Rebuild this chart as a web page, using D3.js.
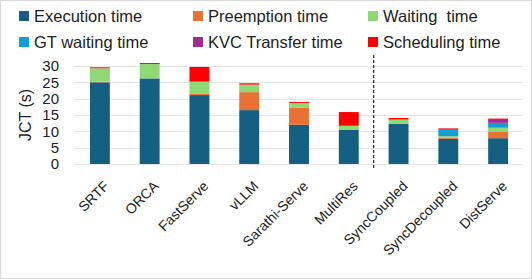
<!DOCTYPE html>
<html lang="en">
<head>
<meta charset="UTF-8">
<title>JCT breakdown</title>
<script src="https://d3js.org/d3.v7.min.js"></script>
<style>
    body { margin: 0; background: #fff; font-family: "Liberation Sans", Arial, sans-serif; }
    svg { display: block; }
</style>
</head>
<body>
<svg id="chart"></svg>
<script>
    // data
    const systems = ["SRTF", "ORCA", "FastServe", "vLLM", "Sarathi-Serve", "MultiRes", "SyncCoupled", "SyncDecoupled", "DistServe"];
    const seriesNames = ["Execution time", "Preemption time", "Waiting  time", "GT waiting time", "KVC Transfer time", "Scheduling time"];
    const execTime     = [25.0, 26.2, 21.1, 16.5, 12.0, 10.5, 12.3, 7.7, 7.9];
    const preemptTime  = [0.2, 0, 0.5, 5.5, 5.2, 0.1, 0.1, 0.3, 1.9];
    const waitTime     = [4.1, 4.4, 3.6, 2.3, 1.5, 1.1, 1.2, 0.5, 1.3];
    const gtWaitTime   = [0, 0, 0, 0, 0, 0, 0, 2.0, 1.5];
    const kvcTime      = [0, 0, 0, 0, 0, 0, 0, 0, 0.9];
    const schedTime    = [0.3, 0.3, 4.5, 0.4, 0.3, 4.2, 0.5, 0.4, 0.4];
    const yTicks = [0, 5, 10, 15, 20, 25, 30];
    const colors = ["#156082", "#E97132", "#8ED973", "#0F9ED5", "#A02B93", "#FF0000"];

    const W = 532, H = 279;
    const svg = d3.select("#chart").attr("width", W).attr("height", H);

    // outer frame like the office chart area
    svg.append("rect")
        .attr("x", 0.5).attr("y", 0.5)
        .attr("width", W - 1).attr("height", H - 1)
        .attr("fill", "none").attr("stroke", "#d9d9d9");

    const rows = systems.map((s, i) => ({
        name: s,
        "Execution time": execTime[i],
        "Preemption time": preemptTime[i],
        "Waiting  time": waitTime[i],
        "GT waiting time": gtWaitTime[i],
        "KVC Transfer time": kvcTime[i],
        "Scheduling time": schedTime[i]
    }));
    const stacked = d3.stack().keys(seriesNames)(rows);

    const x = d3.scaleBand().domain(systems).range([75, 523]).paddingInner(0.6).paddingOuter(0.3);
    const y = d3.scaleLinear().domain([0, 30]).range([164, 66]);

    // grid
    svg.append("g").selectAll("line")
        .data(yTicks)
        .enter().append("line")
        .attr("x1", 75).attr("x2", 523)
        .attr("y1", d => Math.round(y(d)) + 0.5).attr("y2", d => Math.round(y(d)) + 0.5)
        .attr("stroke", "#e3e3e3").attr("stroke-width", 1.2);

    // y tick labels
    svg.append("g").selectAll("text")
        .data(yTicks)
        .enter().append("text")
        .attr("x", 59).attr("y", d => y(d))
        .attr("dy", "0.35em")
        .attr("text-anchor", "end")
        .attr("font-size", 15)
        .attr("fill", "#222")
        .text(d => d);

    svg.append("text")
        .attr("transform", "translate(25," + y(15) + ") rotate(-90)")
        .attr("text-anchor", "middle")
        .attr("dy", "0.35em")
        .attr("font-size", 16)
        .attr("fill", "#222")
        .text("JCT (s)");

    // bars
    svg.append("g").selectAll("g")
        .data(stacked)
        .enter().append("g")
        .attr("fill", (d, i) => colors[i])
        .selectAll("rect")
        .data(d => d)
        .enter().append("rect")
        .attr("x", d => x(d.data.name))
        .attr("width", x.bandwidth())
        .attr("y", d => y(d[1]))
        .attr("height", d => Math.max(0, y(d[0]) - y(d[1])));

    // separator
    const sepX = (x("MultiRes") + x("SyncCoupled") + x.bandwidth()) / 2;
    svg.append("line")
        .attr("x1", sepX).attr("x2", sepX)
        .attr("y1", 55).attr("y2", 168)
        .attr("stroke", "#333").attr("stroke-width", 1.3)
        .attr("stroke-dasharray", "3,2");

    // x labels
    svg.append("g").selectAll("text")
        .data(systems)
        .enter().append("text")
        .attr("transform", d => "translate(" + (x(d) + x.bandwidth() / 2 + 3) + ",180) rotate(-45)")
        .attr("text-anchor", "end")
        .attr("dy", "0.7em")
        .attr("font-size", 14)
        .attr("fill", "#222")
        .text(d => d);

    // legend
    const legendPos = [[19, 16], [193, 16], [368, 16], [19, 42], [193, 42], [368, 42]];
    const legend = svg.append("g").selectAll("g")
        .data(seriesNames)
        .enter().append("g")
        .attr("transform", (d, i) => "translate(" + legendPos[i][0] + "," + legendPos[i][1] + ")");
    legend.append("rect")
        .attr("x", 0).attr("y", -5)
        .attr("width", 10).attr("height", 10)
        .attr("fill", (d, i) => colors[i]);
    legend.append("text")
        .attr("x", 15).attr("dy", "0.35em")
        .attr("font-size", 16.5)
        .attr("fill", "#222")
        .attr("xml:space", "preserve")
        .style("white-space", "pre")
        .text(d => d);
</script>
</body>
</html>
